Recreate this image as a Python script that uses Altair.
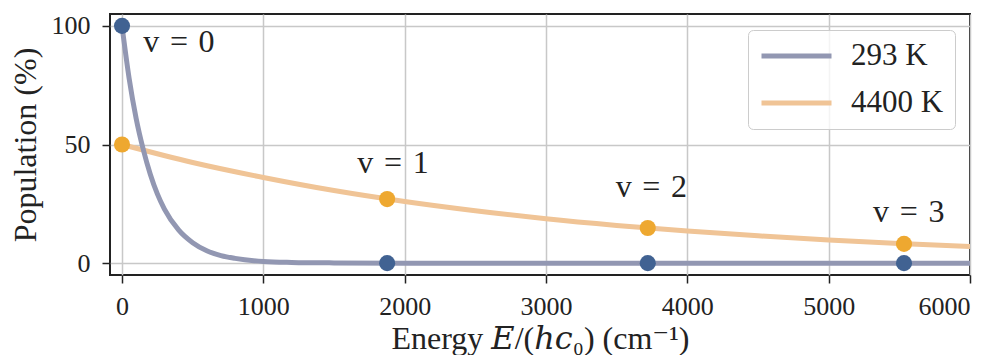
import altair as alt
import pandas as pd

# ---- data ----
series_names = ["293 K", "4400 K"]

curve_energy_293 = [0, 50, 100, 150, 200, 250, 300, 400, 500, 600, 700, 800, 1000, 1200, 1500, 2000, 3000, 4000, 5000, 6000]
curve_pop_293 = [100, 78, 61, 48, 37.5, 29.2, 22.8, 14.0, 8.6, 5.2, 3.2, 2.0, 0.7, 0.3, 0.1, 0, 0, 0, 0, 0]

curve_energy_4400 = [0, 500, 1000, 1500, 2000, 2500, 3000, 3500, 4000, 4500, 5000, 5500, 6000]
curve_pop_4400 = [50, 42.4, 36.1, 30.6, 26.0, 22.1, 18.7, 15.9, 13.5, 11.5, 9.75, 8.3, 7.0]

level_energy = [0, 1876, 3720, 5533]
level_pop_293 = [100, 0, 0, 0]
level_pop_4400 = [50, 27, 14.8, 8.1]

level_labels = ["v\u2004=\u20040", "v\u2004=\u20041", "v\u2004=\u20042", "v\u2004=\u20043"]
label_energy = [150, 1665, 3493, 5314]
label_pop = [89, 38, 27.8, 17.3]

x_ticks = [0, 1000, 2000, 3000, 4000, 5000, 6000]
y_ticks = [0, 50, 100]

line_colors = ["#9297b2", "#f0c496"]
dot_colors = ["#416292", "#eea830"]

FONT = "'Liberation Serif', 'DejaVu Serif', serif"

# ---- tables ----
df293 = pd.DataFrame({"E": curve_energy_293, "P": curve_pop_293, "series": series_names[0]})
df4400 = pd.DataFrame({"E": curve_energy_4400, "P": curve_pop_4400, "series": series_names[1]})
pts293 = pd.DataFrame({"E": level_energy, "P": level_pop_293})
pts4400 = pd.DataFrame({"E": level_energy, "P": level_pop_4400})
labels = pd.DataFrame({"E": label_energy, "P": label_pop, "text": level_labels})

x_enc = alt.X(
    "E:Q",
    scale=alt.Scale(domain=[-85, 6000], nice=False, zero=False),
    axis=alt.Axis(
        values=x_ticks,
        format="d",
        labelPadding=10,
        title="Energy \U0001D438/(\u210E\U0001D450\u2080) (cm\u207B\u00B9)",
        titleX=430,
        titleY=73,
        titleBaseline="alphabetic",
        titleAlign="center",
    ),
)
y_enc = alt.Y(
    "P:Q",
    scale=alt.Scale(domain=[-5, 105], nice=False, zero=False),
    axis=alt.Axis(
        values=y_ticks,
        labelPadding=12,
        title="Population (%)",
        titleX=-85,
        titleY=130.5,
        titleAngle=270,
        titleBaseline="middle",
        titleAlign="center",
    ),
)

color_scale = alt.Scale(domain=series_names, range=line_colors)
legend = alt.Legend(
    title=None,
    orient="none",
    legendX=638,
    legendY=16,
    symbolType="stroke",
    symbolSize=4900,
    symbolStrokeWidth=5,
    symbolOpacity=1,
    clipHeight=30,
    rowPadding=16,
    labelFont=FONT,
    labelFontSize=31,
    labelColor="#222222",
    labelOffset=17,
    padding=11,
    fillColor="rgba(255,255,255,0.8)",
    strokeColor="#cccccc",
    cornerRadius=5,
)

line4400 = alt.Chart(df4400).mark_line(strokeWidth=5, interpolate="monotone", clip=True).encode(
    x=x_enc, y=y_enc, color=alt.Color("series:N", scale=color_scale, legend=legend)
)
line293 = alt.Chart(df293).mark_line(strokeWidth=5, interpolate="monotone", clip=True).encode(
    x=x_enc, y=y_enc, color=alt.Color("series:N", scale=color_scale, legend=legend)
)
dots293 = alt.Chart(pts293).mark_circle(size=260, opacity=1, color=dot_colors[0]).encode(x=x_enc, y=y_enc)
dots4400 = alt.Chart(pts4400).mark_circle(size=260, opacity=1, color=dot_colors[1]).encode(x=x_enc, y=y_enc)
texts = alt.Chart(labels).mark_text(
    align="left", baseline="alphabetic", font=FONT, fontSize=32, color="#222222"
).encode(x=x_enc, y=y_enc, text="text:N")

chart = (
    alt.layer(line4400, line293, dots4400, dots293, texts)
    .properties(
        width=860,
        height=261,
        autosize=alt.AutoSizeParams(type="none"),
        padding={"left": 102, "top": 6, "right": 18, "bottom": 80},
    )
    .configure_view(stroke="#222222", strokeWidth=2)
    .configure_axis(
        grid=True,
        gridColor="#c8c8c8",
        gridWidth=1.5,
        domain=False,
        tickColor="#222222",
        tickSize=8,
        tickWidth=1.5,
        labelFont=FONT,
        labelFontSize=26,
        labelColor="#222222",
        titleFont=FONT,
        titleFontSize=32,
        titleFontWeight="normal",
        titleColor="#222222",
    )
)

chart.save("out.html", embed_options={"renderer": "svg", "actions": False})
